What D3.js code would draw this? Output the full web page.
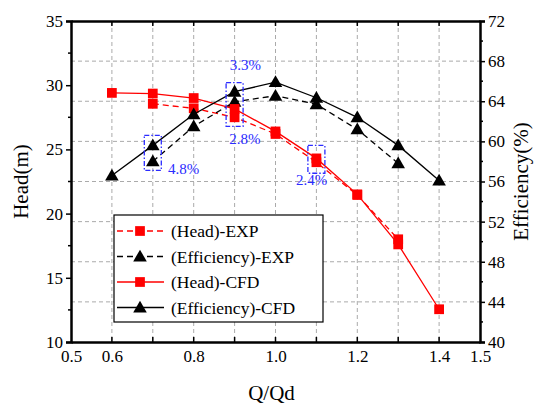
<!DOCTYPE html>
<html>
<head>
<meta charset="utf-8">
<script src="https://cdn.jsdelivr.net/npm/d3@7"></script>
<style>
  body { margin: 0; background: #fff; }
  svg text { font-family: "Liberation Serif", "Times New Roman", Times, "DejaVu Serif", serif !important; }
</style>
</head>
<body>
<div id="chart"></div>
<script>
// data
var flowCFD = [0.6, 0.7, 0.8, 0.9, 1.0, 1.1, 1.2, 1.3, 1.4];
var headCFD = [29.4, 29.35, 29.0, 28.15, 26.4, 24.3, 21.5, 17.6, 12.55];
var effCFD = [56.6, 59.6, 62.7, 64.95, 65.9, 64.35, 62.4, 59.6, 56.1];

var flowEXP = [0.7, 0.8, 0.9, 1.0, 1.1, 1.2, 1.3];
var headEXP = [28.55, 28.2, 27.5, 26.2, 24.0, 21.45, 18.0];
var effEXP = [58.0, 61.5, 63.95, 64.55, 63.7, 61.2, 57.8];

var xTickLabels = [0.5, 0.6, 0.8, 1.0, 1.2, 1.4, 1.5];
var headTicks = [10, 15, 20, 25, 30, 35];
var effTicks = [40, 44, 48, 52, 56, 60, 64, 68, 72];

var W = 541, H = 407;
var m = {left: 71, right: 61, top: 21, bottom: 65};
var w = W - m.left - m.right, h = H - m.top - m.bottom;
var serif = '"Liberation Serif", "Times New Roman", serif';

var svg = d3.select("#chart").append("svg")
    .attr("width", W).attr("height", H)
    .attr("font-family", serif);
var g = svg.append("g").attr("transform", "translate(" + m.left + "," + m.top + ")");

var x = d3.scaleLinear().domain([0.5, 1.5]).range([0, w]);
var yH = d3.scaleLinear().domain([10, 35]).range([h, 0]);
var yE = d3.scaleLinear().domain([40, 72]).range([h, 0]);

// grid
var gx = d3.range(0.6, 1.45, 0.1);
g.selectAll(".vg").data(gx).enter().append("line")
    .attr("x1", d => x(d)).attr("x2", d => x(d))
    .attr("y1", 0).attr("y2", h)
    .attr("stroke", "#aaa").attr("stroke-width", 1).attr("stroke-dasharray", "4,3");
g.selectAll(".hg").data(effTicks.slice(1, -1)).enter().append("line")
    .attr("x1", 0).attr("x2", w)
    .attr("y1", d => yE(d)).attr("y2", d => yE(d))
    .attr("stroke", "#aaa").attr("stroke-width", 1).attr("stroke-dasharray", "4,3");

// axes
var fmt = d3.format(".1f");
var xAxis = g.append("g").attr("transform", "translate(0," + h + ")")
    .call(d3.axisBottom(x).tickValues(xTickLabels).tickFormat(fmt).tickSize(0).tickPadding(8));
var xTop = g.append("g").call(d3.axisTop(x).tickValues([]).tickSize(0));
var yl = g.append("g").call(d3.axisLeft(yH).tickValues(headTicks).tickSize(5).tickPadding(3));
var yr = g.append("g").attr("transform", "translate(" + w + ",0)")
    .call(d3.axisRight(yE).tickValues(effTicks).tickSize(5).tickPadding(3));
[xAxis, xTop, yl, yr].forEach(function (a) {
  a.attr("font-family", serif);
  a.select(".domain").attr("stroke-width", 2.5);
  a.selectAll("text").attr("font-size", "17px").attr("fill", "#000");
  a.selectAll("line").attr("stroke-width", 1.5);
});
// minor ticks
g.selectAll(".ml").data(d3.range(12.5, 35, 5)).enter().append("line")
    .attr("x1", -3).attr("x2", 0).attr("y1", d => yH(d)).attr("y2", d => yH(d))
    .attr("stroke", "#000").attr("stroke-width", 1.5);
g.selectAll(".mr").data(d3.range(42, 72, 4)).enter().append("line")
    .attr("x1", w).attr("x2", w + 3).attr("y1", d => yE(d)).attr("y2", d => yE(d))
    .attr("stroke", "#000").attr("stroke-width", 1.5);
// x ticks inward, bottom and top
var xt = d3.range(0.6, 1.45, 0.1);
[h, 0].forEach(function (yy) {
  g.selectAll(null).data(xt).enter().append("line")
      .attr("x1", d => x(d)).attr("x2", d => x(d))
      .attr("y1", yy).attr("y2", yy === h ? h - 5 : 5)
      .attr("stroke", "#000").attr("stroke-width", 1.5);
});

// axis titles
svg.append("text").attr("transform", "translate(28," + (m.top + h / 2) + ") rotate(-90)")
    .attr("text-anchor", "middle").attr("font-size", "21px").text("Head(m)");
svg.append("text").attr("transform", "translate(528," + (m.top + h / 2) + ") rotate(-90)")
    .attr("text-anchor", "middle").attr("font-size", "21px").text("Efficiency(%)");
svg.append("text").attr("x", m.left + w / 2 - 4).attr("y", 400)
    .attr("text-anchor", "middle").attr("font-size", "21px").text("Q/Qd");

// series
var series = [
  {name: "(Head)-EXP", q: flowEXP, v: headEXP, y: yH, color: "red", dash: "6,4", shape: "sq"},
  {name: "(Efficiency)-EXP", q: flowEXP, v: effEXP, y: yE, color: "black", dash: "6,4", shape: "tri"},
  {name: "(Head)-CFD", q: flowCFD, v: headCFD, y: yH, color: "red", dash: null, shape: "sq"},
  {name: "(Efficiency)-CFD", q: flowCFD, v: effCFD, y: yE, color: "black", dash: null, shape: "tri"}
];
var sqSym = d3.symbol().type(d3.symbolSquare).size(95);
var triSym = d3.symbol().type(d3.symbolTriangle).size(80);

series.forEach(function (s) {
  var pts = s.q.map((q, i) => [q, s.v[i]]);
  g.append("path").datum(pts)
      .attr("fill", "none").attr("stroke", s.color).attr("stroke-width", 1.3)
      .attr("stroke-dasharray", s.dash)
      .attr("d", d3.line().x(d => x(d[0])).y(d => s.y(d[1])));
  g.selectAll(null).data(pts).enter().append("path")
      .attr("transform", d => "translate(" + x(d[0]) + "," + (s.y(d[1]) + (s.shape === "tri" ? 1 : 0)) + ")")
      .attr("d", s.shape === "sq" ? sqSym : triSym)
      .attr("fill", s.color);
});

// error boxes
var blue = "#2b2bff";
function box(q, top, bottom) {
  g.append("rect").attr("x", x(q) - 8.5).attr("y", top).attr("width", 17).attr("height", bottom - top)
      .attr("fill", "none").attr("stroke", blue).attr("stroke-width", 1.3)
      .attr("stroke-dasharray", "5,2,1.5,2");
}
box(0.7, yE(59.6) - 10, yE(58.0) + 9);
box(0.9, yE(64.95) - 9, yH(27.5) + 9);
box(1.1, yH(24.3) - 13, yH(24.0) + 11);
var labels = [
  {text: "4.8%", q: 0.737, y: yE(56.7)},
  {text: "3.3%", q: 0.888, y: yE(67.1)},
  {text: "2.8%", q: 0.887, y: yE(59.7)},
  {text: "2.4%", q: 1.05, y: yH(22.2)}
];
g.selectAll(null).data(labels).enter().append("text")
    .attr("x", d => x(d.q)).attr("y", d => d.y)
    .attr("font-size", "15px").attr("fill", blue).text(d => d.text);

// legend
var lg = g.append("g").attr("transform", "translate(" + (114 - m.left) + "," + (215 - m.top) + ")");
lg.append("rect").attr("width", 209).attr("height", 107)
    .attr("fill", "#fff").attr("stroke", "#000").attr("stroke-width", 1.2);
series.forEach(function (s, i) {
  var yy = 16 + i * 25.5;
  lg.append("line").attr("x1", 3).attr("x2", 50).attr("y1", yy).attr("y2", yy)
      .attr("stroke", s.color).attr("stroke-width", 1.3).attr("stroke-dasharray", s.dash);
  lg.append("path").attr("transform", "translate(26," + (yy + (s.shape === "tri" ? 1 : 0)) + ")")
      .attr("d", s.shape === "sq" ? sqSym : triSym).attr("fill", s.color);
  lg.append("text").attr("x", 57).attr("y", yy + 6).attr("font-size", "17.5px").text(s.name);
});
</script>
</body>
</html>
